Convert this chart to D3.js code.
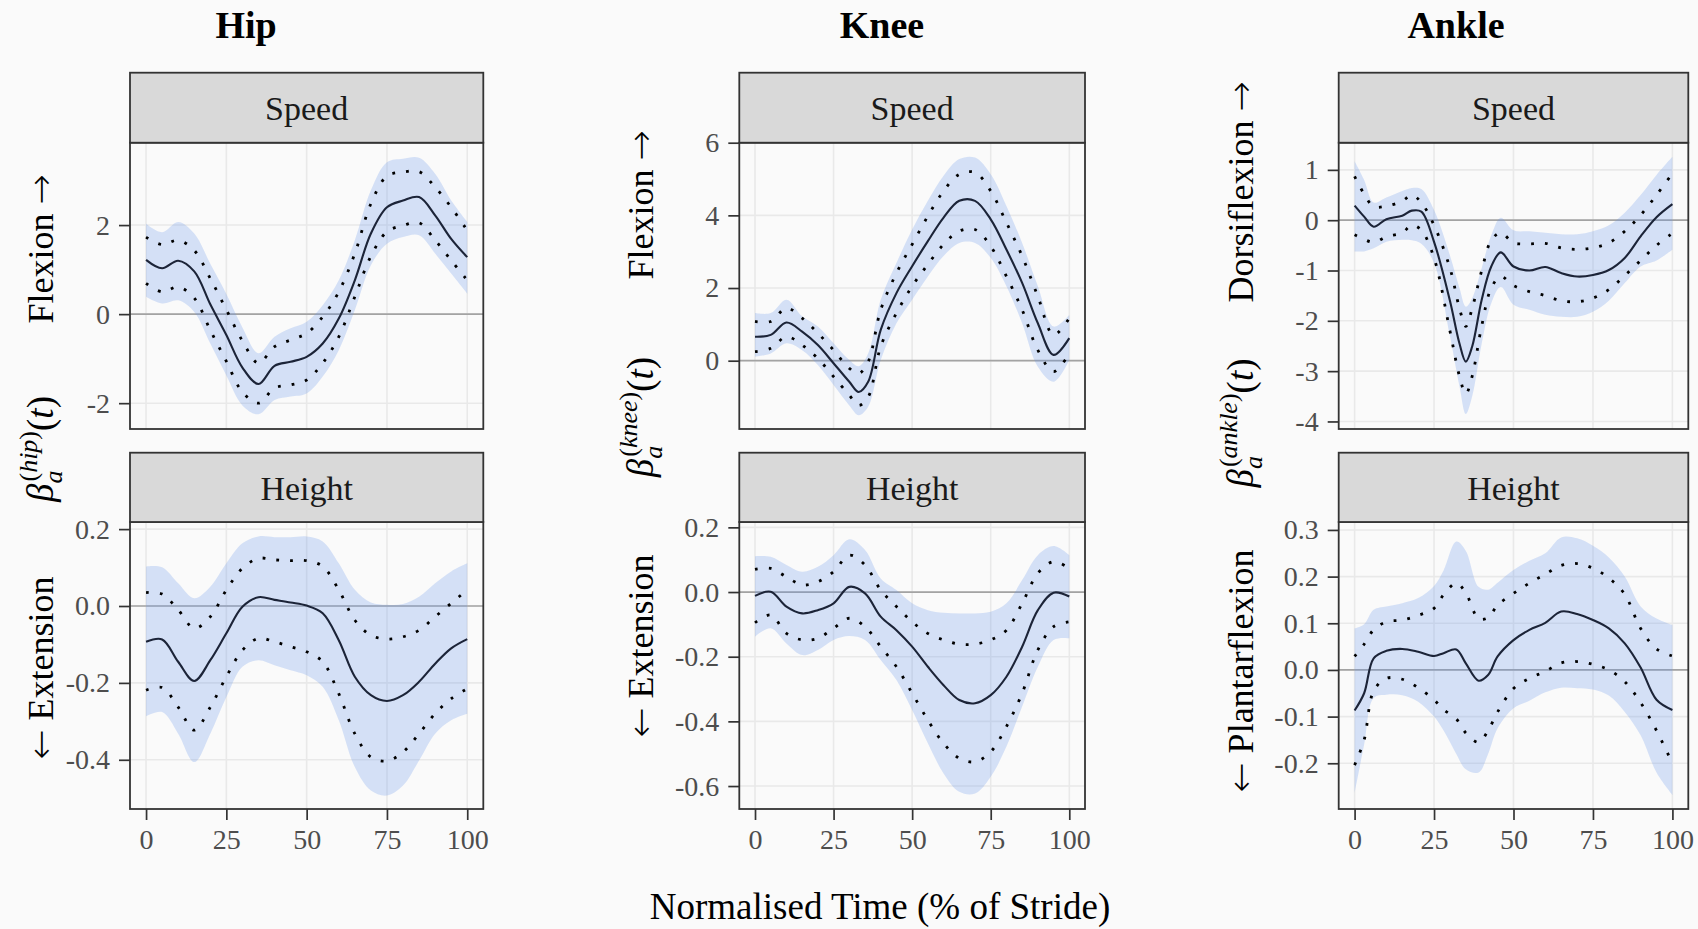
<!DOCTYPE html>
<html>
<head>
<meta charset="utf-8">
<script src="https://cdn.jsdelivr.net/npm/d3@7"></script>
<style>
  body { margin: 0; background: #fafafa; }
  svg { display: block; font-family: "Liberation Serif", "DejaVu Serif", serif; }
</style>
</head>
<body>
<svg id="chart"></svg>
<script>
// ---- data (x = % of stride) ----
const stride5 = [0, 5, 10, 15, 20, 25, 30, 35, 40, 45, 50, 55, 60, 65, 70, 75, 80, 85, 90, 95, 100]

// Hip / Speed
const hipSpeedMean   = [1.22, 1.03, 1.2, 0.96, 0.22, -0.47, -1.2, -1.57, -1.16, -1.07, -0.96, -0.66, -0.1, 0.76, 1.81, 2.4, 2.55, 2.63, 2.22, 1.69, 1.28]
const hipSpeedHi     = [1.73, 1.56, 1.66, 1.43, 0.8, 0.1, -0.6, -1.1, -0.73, -0.58, -0.43, -0.06, 0.5, 1.36, 2.48, 3.1, 3.19, 3.2, 2.85, 2.4, 1.88]
const hipSpeedLo     = [0.69, 0.5, 0.61, 0.36, -0.36, -1.06, -1.75, -2.0, -1.66, -1.59, -1.48, -1.1, -0.51, 0.39, 1.3, 1.85, 1.99, 2.05, 1.66, 1.21, 0.76]
const hipSpeedBandHi = [2.03, 1.84, 2.07, 1.81, 1.13, 0.45, -0.3, -0.88, -0.51, -0.32, -0.17, 0.2, 0.76, 1.66, 2.78, 3.41, 3.49, 3.51, 3.15, 2.55, 2.07]
const hipSpeedBandLo = [0.39, 0.24, 0.31, 0.05, -0.66, -1.38, -2.05, -2.25, -1.93, -1.85, -1.78, -1.4, -0.81, 0.09, 1.1, 1.58, 1.73, 1.77, 1.36, 0.91, 0.46]

// Hip / Height
const hipHeightMean   = [-0.093, -0.087, -0.145, -0.195, -0.141, -0.071, -0.002, 0.023, 0.016, 0.009, 0.001, -0.019, -0.089, -0.184, -0.232, -0.247, -0.232, -0.197, -0.15, -0.11, -0.086]
const hipHeightHi     = [0.035, 0.031, -0.01, -0.058, -0.028, 0.042, 0.098, 0.124, 0.12, 0.118, 0.118, 0.103, 0.042, -0.037, -0.076, -0.086, -0.08, -0.063, -0.028, 0.007, 0.042]
const hipHeightLo     = [-0.219, -0.212, -0.263, -0.323, -0.263, -0.184, -0.115, -0.084, -0.093, -0.106, -0.119, -0.145, -0.228, -0.332, -0.393, -0.403, -0.38, -0.332, -0.28, -0.241, -0.215]
const hipHeightBandHi = [0.103, 0.101, 0.059, 0.02, 0.05, 0.111, 0.163, 0.181, 0.179, 0.179, 0.181, 0.168, 0.111, 0.042, 0.009, 0.003, 0.005, 0.024, 0.059, 0.09, 0.111]
const hipHeightBandLo = [-0.287, -0.276, -0.332, -0.406, -0.332, -0.237, -0.158, -0.141, -0.154, -0.167, -0.18, -0.21, -0.297, -0.419, -0.48, -0.493, -0.467, -0.402, -0.332, -0.297, -0.28]

// Knee / Speed
const kneeSpeedT      = [0, 5, 10, 15, 20, 25, 30, 33, 36, 40, 45, 50, 55, 60, 65, 70, 75, 80, 85, 90, 95, 100]
const kneeSpeedMean   = [0.66, 0.71, 1.05, 0.8, 0.43, -0.07, -0.58, -0.86, -0.58, 0.85, 1.86, 2.6, 3.29, 3.94, 4.4, 4.4, 3.89, 3.06, 2.14, 1.03, 0.16, 0.62]
const kneeSpeedHi     = [1.08, 1.08, 1.45, 1.17, 0.76, 0.29, -0.21, -0.35, -0.03, 1.4, 2.41, 3.2, 3.98, 4.67, 5.13, 5.18, 4.67, 3.8, 2.88, 1.77, 0.71, 1.17]
const kneeSpeedLo     = [0.25, 0.34, 0.66, 0.43, 0.06, -0.44, -0.95, -1.23, -1.0, 0.39, 1.31, 2.05, 2.65, 3.2, 3.57, 3.61, 3.15, 2.32, 1.4, 0.29, -0.3, 0.2]
const kneeSpeedBandHi = [1.31, 1.31, 1.68, 1.22, 0.94, 0.48, 0.02, -0.15, 0.2, 1.68, 2.69, 3.61, 4.4, 5.09, 5.55, 5.59, 5.13, 4.26, 3.24, 2.05, 0.94, 1.26]
const kneeSpeedBandLo = [0.11, 0.2, 0.48, 0.29, -0.12, -0.67, -1.23, -1.5, -1.27, 0.02, 1.03, 1.68, 2.32, 2.88, 3.24, 3.24, 2.83, 2.05, 1.03, -0.17, -0.58, 0.02]

// Knee / Height
const kneeHeightMean   = [-0.012, 0.001, -0.045, -0.066, -0.056, -0.035, 0.016, -0.004, -0.076, -0.118, -0.169, -0.231, -0.288, -0.334, -0.344, -0.319, -0.262, -0.169, -0.056, -0.002, -0.014]
const kneeHeightHi     = [0.07, 0.073, 0.047, 0.022, 0.032, 0.063, 0.114, 0.084, 0.006, -0.045, -0.092, -0.128, -0.148, -0.161, -0.161, -0.148, -0.118, -0.035, 0.058, 0.094, 0.073]
const kneeHeightLo     = [-0.095, -0.071, -0.128, -0.148, -0.143, -0.112, -0.081, -0.107, -0.169, -0.231, -0.313, -0.396, -0.468, -0.514, -0.525, -0.494, -0.416, -0.313, -0.179, -0.107, -0.092]
const kneeHeightBandHi = [0.111, 0.109, 0.084, 0.063, 0.078, 0.114, 0.163, 0.13, 0.042, 0.006, -0.035, -0.056, -0.064, -0.066, -0.066, -0.061, -0.035, 0.037, 0.114, 0.142, 0.114]
const kneeHeightBandLo = [-0.138, -0.112, -0.159, -0.195, -0.179, -0.148, -0.136, -0.148, -0.21, -0.272, -0.365, -0.468, -0.561, -0.618, -0.623, -0.571, -0.478, -0.354, -0.231, -0.148, -0.143]

// Ankle / Speed
const ankleSpeedT      = [0, 3, 6, 10, 15, 18, 21, 25, 30, 33, 35, 37, 40, 43, 46, 50, 55, 60, 65, 70, 75, 80, 85, 90, 95, 100]
const ankleSpeedMean   = [0.29, 0.07, -0.13, 0.02, 0.09, 0.19, 0.17, -0.43, -1.6, -2.45, -2.81, -2.51, -1.58, -0.92, -0.64, -0.92, -1.0, -0.93, -1.05, -1.12, -1.09, -0.99, -0.75, -0.32, 0.06, 0.32]
const ankleSpeedHi     = [0.87, 0.52, 0.27, 0.28, 0.38, 0.5, 0.35, -0.1, -0.95, -1.75, -2.11, -1.75, -1.0, -0.4, -0.25, -0.45, -0.47, -0.46, -0.55, -0.58, -0.55, -0.45, -0.22, 0.1, 0.5, 0.93]
const ankleSpeedLo     = [-0.29, -0.38, -0.44, -0.33, -0.25, -0.1, -0.2, -0.75, -2.2, -3.1, -3.45, -3.1, -2.1, -1.35, -1.12, -1.3, -1.42, -1.5, -1.6, -1.62, -1.55, -1.38, -1.1, -0.8, -0.5, -0.26]
const ankleSpeedBandHi = [1.17, 0.8, 0.35, 0.45, 0.58, 0.64, 0.62, 0.2, -0.7, -1.35, -1.72, -1.55, -0.95, -0.3, 0.05, -0.2, -0.22, -0.25, -0.28, -0.28, -0.22, -0.1, 0.15, 0.5, 0.9, 1.26]
const ankleSpeedBandLo = [-0.62, -0.62, -0.56, -0.43, -0.39, -0.4, -0.47, -0.85, -2.3, -3.3, -3.85, -3.5, -2.45, -1.65, -1.33, -1.68, -1.78, -1.88, -1.92, -1.92, -1.82, -1.6, -1.25, -0.92, -0.8, -0.59]

// Ankle / Height
const ankleHeightT      = [0, 3, 6, 10, 15, 20, 25, 28, 32, 35, 39, 42, 45, 50, 55, 60, 65, 70, 75, 80, 85, 90, 95, 100]
const ankleHeightMean   = [-0.087, -0.05, 0.025, 0.041, 0.045, 0.039, 0.03, 0.036, 0.044, 0.014, -0.023, -0.011, 0.029, 0.064, 0.086, 0.101, 0.125, 0.12, 0.107, 0.089, 0.057, 0.005, -0.064, -0.086]
const ankleHeightHi     = [0.029, 0.055, 0.086, 0.103, 0.107, 0.117, 0.132, 0.161, 0.186, 0.165, 0.11, 0.112, 0.139, 0.164, 0.186, 0.205, 0.224, 0.228, 0.218, 0.197, 0.162, 0.089, 0.045, 0.03]
const ankleHeightLo     = [-0.204, -0.15, -0.045, -0.018, -0.02, -0.038, -0.064, -0.085, -0.105, -0.135, -0.155, -0.13, -0.09, -0.04, -0.018, -0.003, 0.015, 0.018, 0.012, 0.0, -0.025, -0.07, -0.13, -0.2]
const ankleHeightBandHi = [0.089, 0.098, 0.129, 0.136, 0.143, 0.154, 0.18, 0.213, 0.275, 0.255, 0.178, 0.172, 0.187, 0.214, 0.234, 0.25, 0.284, 0.282, 0.266, 0.241, 0.2, 0.136, 0.11, 0.096]
const ankleHeightBandLo = [-0.264, -0.16, -0.06, -0.053, -0.054, -0.068, -0.1, -0.13, -0.18, -0.213, -0.22, -0.18, -0.125, -0.082, -0.066, -0.048, -0.038, -0.039, -0.042, -0.055, -0.09, -0.14, -0.22, -0.268]

// tick values and labels
const xTicks = [0, 25, 50, 75, 100]
const xTickLabels = ['0', '25', '50', '75', '100']
const hipSpeedTicks = [-2, 0, 2]
const hipSpeedTickLabels = ['-2', '0', '2']
const hipHeightTicks = [-0.4, -0.2, 0, 0.2]
const hipHeightTickLabels = ['-0.4', '-0.2', '0.0', '0.2']
const kneeSpeedTicks = [0, 2, 4, 6]
const kneeSpeedTickLabels = ['0', '2', '4', '6']
const kneeHeightTicks = [-0.6, -0.4, -0.2, 0, 0.2]
const kneeHeightTickLabels = ['-0.6', '-0.4', '-0.2', '0.0', '0.2']
const ankleSpeedTicks = [-4, -3, -2, -1, 0, 1]
const ankleSpeedTickLabels = ['-4', '-3', '-2', '-1', '0', '1']
const ankleHeightTicks = [-0.2, -0.1, 0, 0.1, 0.2, 0.3]
const ankleHeightTickLabels = ['-0.2', '-0.1', '0.0', '0.1', '0.2', '0.3']

// ---- layout ----
const width = 1698
const height = 929

const cols = [
    {left: 130, right: 483.3, title: 'Hip', titleX: 246, joint: 'hip', up: 'Flexion', down: 'Extension', labelX: 53, upY: 249, betaY: 449, downY: 668},
    {left: 739.3, right: 1085, title: 'Knee', titleX: 882, joint: 'knee', up: 'Flexion', down: 'Extension', labelX: 653, upY: 205, betaY: 417, downY: 646},
    {left: 1338.7, right: 1688.3, title: 'Ankle', titleX: 1456, joint: 'ankle', up: 'Dorsiflexion', down: 'Plantarflexion', labelX: 1253, upY: 192, betaY: 423, downY: 671}
]
const rows = [
    {stripTop: 72.7, top: 142.7, bottom: 429, strip: 'Speed'},
    {stripTop: 452.7, top: 522, bottom: 809, strip: 'Height'}
]

const panels = [
    {col: 0, row: 0, t: stride5, mean: hipSpeedMean, hi: hipSpeedHi, lo: hipSpeedLo, bandHi: hipSpeedBandHi, bandLo: hipSpeedBandLo, yDomain: [-2.58, 3.85], ticks: hipSpeedTicks, labels: hipSpeedTickLabels},
    {col: 0, row: 1, t: stride5, mean: hipHeightMean, hi: hipHeightHi, lo: hipHeightLo, bandHi: hipHeightBandHi, bandLo: hipHeightBandLo, yDomain: [-0.528, 0.2185], ticks: hipHeightTicks, labels: hipHeightTickLabels},
    {col: 1, row: 0, t: kneeSpeedT, mean: kneeSpeedMean, hi: kneeSpeedHi, lo: kneeSpeedLo, bandHi: kneeSpeedBandHi, bandLo: kneeSpeedBandLo, yDomain: [-1.88, 6.0], ticks: kneeSpeedTicks, labels: kneeSpeedTickLabels},
    {col: 1, row: 1, t: stride5, mean: kneeHeightMean, hi: kneeHeightHi, lo: kneeHeightLo, bandHi: kneeHeightBandHi, bandLo: kneeHeightBandLo, yDomain: [-0.671, 0.2166], ticks: kneeHeightTicks, labels: kneeHeightTickLabels},
    {col: 2, row: 0, t: ankleSpeedT, mean: ankleSpeedMean, hi: ankleSpeedHi, lo: ankleSpeedLo, bandHi: ankleSpeedBandHi, bandLo: ankleSpeedBandLo, yDomain: [-4.15, 1.54], ticks: ankleSpeedTicks, labels: ankleSpeedTickLabels},
    {col: 2, row: 1, t: ankleHeightT, mean: ankleHeightMean, hi: ankleHeightHi, lo: ankleHeightLo, bandHi: ankleHeightBandHi, bandLo: ankleHeightBandLo, yDomain: [-0.298, 0.317], ticks: ankleHeightTicks, labels: ankleHeightTickLabels}
]

const svg = d3.select('#chart')
                .attr('width', width)
                .attr('height', height)

svg.append('rect')
    .attr('width', width)
    .attr('height', height)
    .attr('fill', '#fafafa')

let drawPanel = (p) => {
    const c = cols[p.col]
    const r = rows[p.row]
    const x = d3.scaleLinear().domain([-5, 105]).range([c.left, c.right])
    const y = d3.scaleLinear().domain(p.yDomain).range([r.bottom, r.top])
    const g = svg.append('g')

    // grid
    g.selectAll('.gx').data(xTicks).enter().append('line')
        .attr('x1', d => x(d)).attr('x2', d => x(d))
        .attr('y1', r.top).attr('y2', r.bottom)
        .attr('stroke', '#e9e9e9').attr('stroke-width', 1.6)
    g.selectAll('.gy').data(p.ticks).enter().append('line')
        .attr('x1', c.left).attr('x2', c.right)
        .attr('y1', d => y(d)).attr('y2', d => y(d))
        .attr('stroke', '#e9e9e9').attr('stroke-width', 1.6)

    // zero reference
    g.append('line')
        .attr('x1', c.left).attr('x2', c.right)
        .attr('y1', y(0)).attr('y2', y(0))
        .attr('stroke', '#a3a3a3').attr('stroke-width', 1.7)

    const pts = p.t.map((t, i) => ({t: t, m: p.mean[i], hi: p.hi[i], lo: p.lo[i], bh: p.bandHi[i], bl: p.bandLo[i]}))
    const curve = d3.curveCatmullRom

    g.append('path').datum(pts)
        .attr('d', d3.area().x(d => x(d.t)).y0(d => y(d.bl)).y1(d => y(d.bh)).curve(curve))
        .attr('fill', 'cornflowerblue').attr('fill-opacity', 0.25)

    for (const key of ['hi', 'lo']) {
        g.append('path').datum(pts)
            .attr('d', d3.line().x(d => x(d.t)).y(d => y(d[key])).curve(curve))
            .attr('fill', 'none').attr('stroke', '#000')
            .attr('stroke-width', 2.8).attr('stroke-dasharray', '2.8,11')
    }

    g.append('path').datum(pts)
        .attr('d', d3.line().x(d => x(d.t)).y(d => y(d.m)).curve(curve))
        .attr('fill', 'none').attr('stroke', '#1c2438').attr('stroke-width', 2.1)

    // panel border
    g.append('rect')
        .attr('x', c.left).attr('y', r.top)
        .attr('width', c.right - c.left).attr('height', r.bottom - r.top)
        .attr('fill', 'none').attr('stroke', '#333').attr('stroke-width', 1.8)

    // strip
    g.append('rect')
        .attr('x', c.left).attr('y', r.stripTop)
        .attr('width', c.right - c.left).attr('height', r.top - r.stripTop)
        .attr('fill', '#d9d9d9').attr('stroke', '#333').attr('stroke-width', 1.8)
    g.append('text')
        .attr('x', (c.left + c.right) / 2).attr('y', (r.stripTop + r.top) / 2 + 12.5)
        .attr('text-anchor', 'middle').attr('font-size', 34).attr('fill', '#1a1a1a')
        .text(r.strip)

    // y axis
    const yAxis = d3.axisLeft(y).tickValues(p.ticks).tickFormat((d, i) => p.labels[i]).tickSize(11).tickPadding(9)
    const ya = g.append('g').attr('transform', 'translate(' + c.left + ',0)').call(yAxis)
    ya.select('.domain').remove()
    ya.selectAll('line').attr('stroke', '#333').attr('stroke-width', 1.7)
    ya.selectAll('text').attr('font-size', 28).attr('fill', '#4d4d4d')
        .attr('font-family', '"Liberation Serif", "DejaVu Serif", serif')

    // x axis only on bottom row
    if (p.row === 1) {
        const xAxis = d3.axisBottom(x).tickValues(xTicks).tickFormat((d, i) => xTickLabels[i]).tickSize(11).tickPadding(9)
        const xa = g.append('g').attr('transform', 'translate(0,' + r.bottom + ')').call(xAxis)
        xa.select('.domain').remove()
        xa.selectAll('line').attr('stroke', '#333').attr('stroke-width', 1.7)
        xa.selectAll('text').attr('font-size', 28).attr('fill', '#4d4d4d')
            .attr('font-family', '"Liberation Serif", "DejaVu Serif", serif')
    }
}

panels.forEach(drawPanel)

// column titles and y labels
cols.forEach(c => {
    svg.append('text')
        .attr('x', c.titleX).attr('y', 38)
        .attr('text-anchor', 'middle').attr('font-size', 38).attr('font-weight', 'bold')
        .text(c.title)

    const upLab = svg.append('text')
        .attr('transform', 'translate(' + c.labelX + ',' + c.upY + ') rotate(-90)')
        .attr('text-anchor', 'middle').attr('font-size', 36)
    upLab.append('tspan').text(c.up + ' ')
    upLab.append('tspan').attr('font-family', '"DejaVu Sans", sans-serif').attr('font-weight', 200).text('→')

    const downLab = svg.append('text')
        .attr('transform', 'translate(' + c.labelX + ',' + c.downY + ') rotate(-90)')
        .attr('text-anchor', 'middle').attr('font-size', 36)
    downLab.append('tspan').attr('font-family', '"DejaVu Sans", sans-serif').attr('font-weight', 200).text('←')
    downLab.append('tspan').text(' ' + c.down)

    const lab = svg.append('text')
        .attr('transform', 'translate(' + c.labelX + ',' + c.betaY + ') rotate(-90)')
        .attr('text-anchor', 'middle').attr('font-size', 37)
    lab.append('tspan').attr('font-style', 'italic').text('β')
    lab.append('tspan').attr('font-style', 'italic').attr('font-size', 26).attr('dy', 9).text('a')
    lab.append('tspan').attr('font-size', 26).attr('dx', -11).attr('dy', -25).text('(')
    lab.append('tspan').attr('font-size', 26).attr('font-style', 'italic').text(c.joint)
    lab.append('tspan').attr('font-size', 26).text(')')
    lab.append('tspan').attr('dy', 16).text('(')
    lab.append('tspan').attr('font-style', 'italic').text('t')
    lab.append('tspan').text(')')
})

svg.append('text')
    .attr('x', 880).attr('y', 919)
    .attr('text-anchor', 'middle').attr('font-size', 37)
    .text('Normalised Time (% of Stride)')
</script>
</body>
</html>
